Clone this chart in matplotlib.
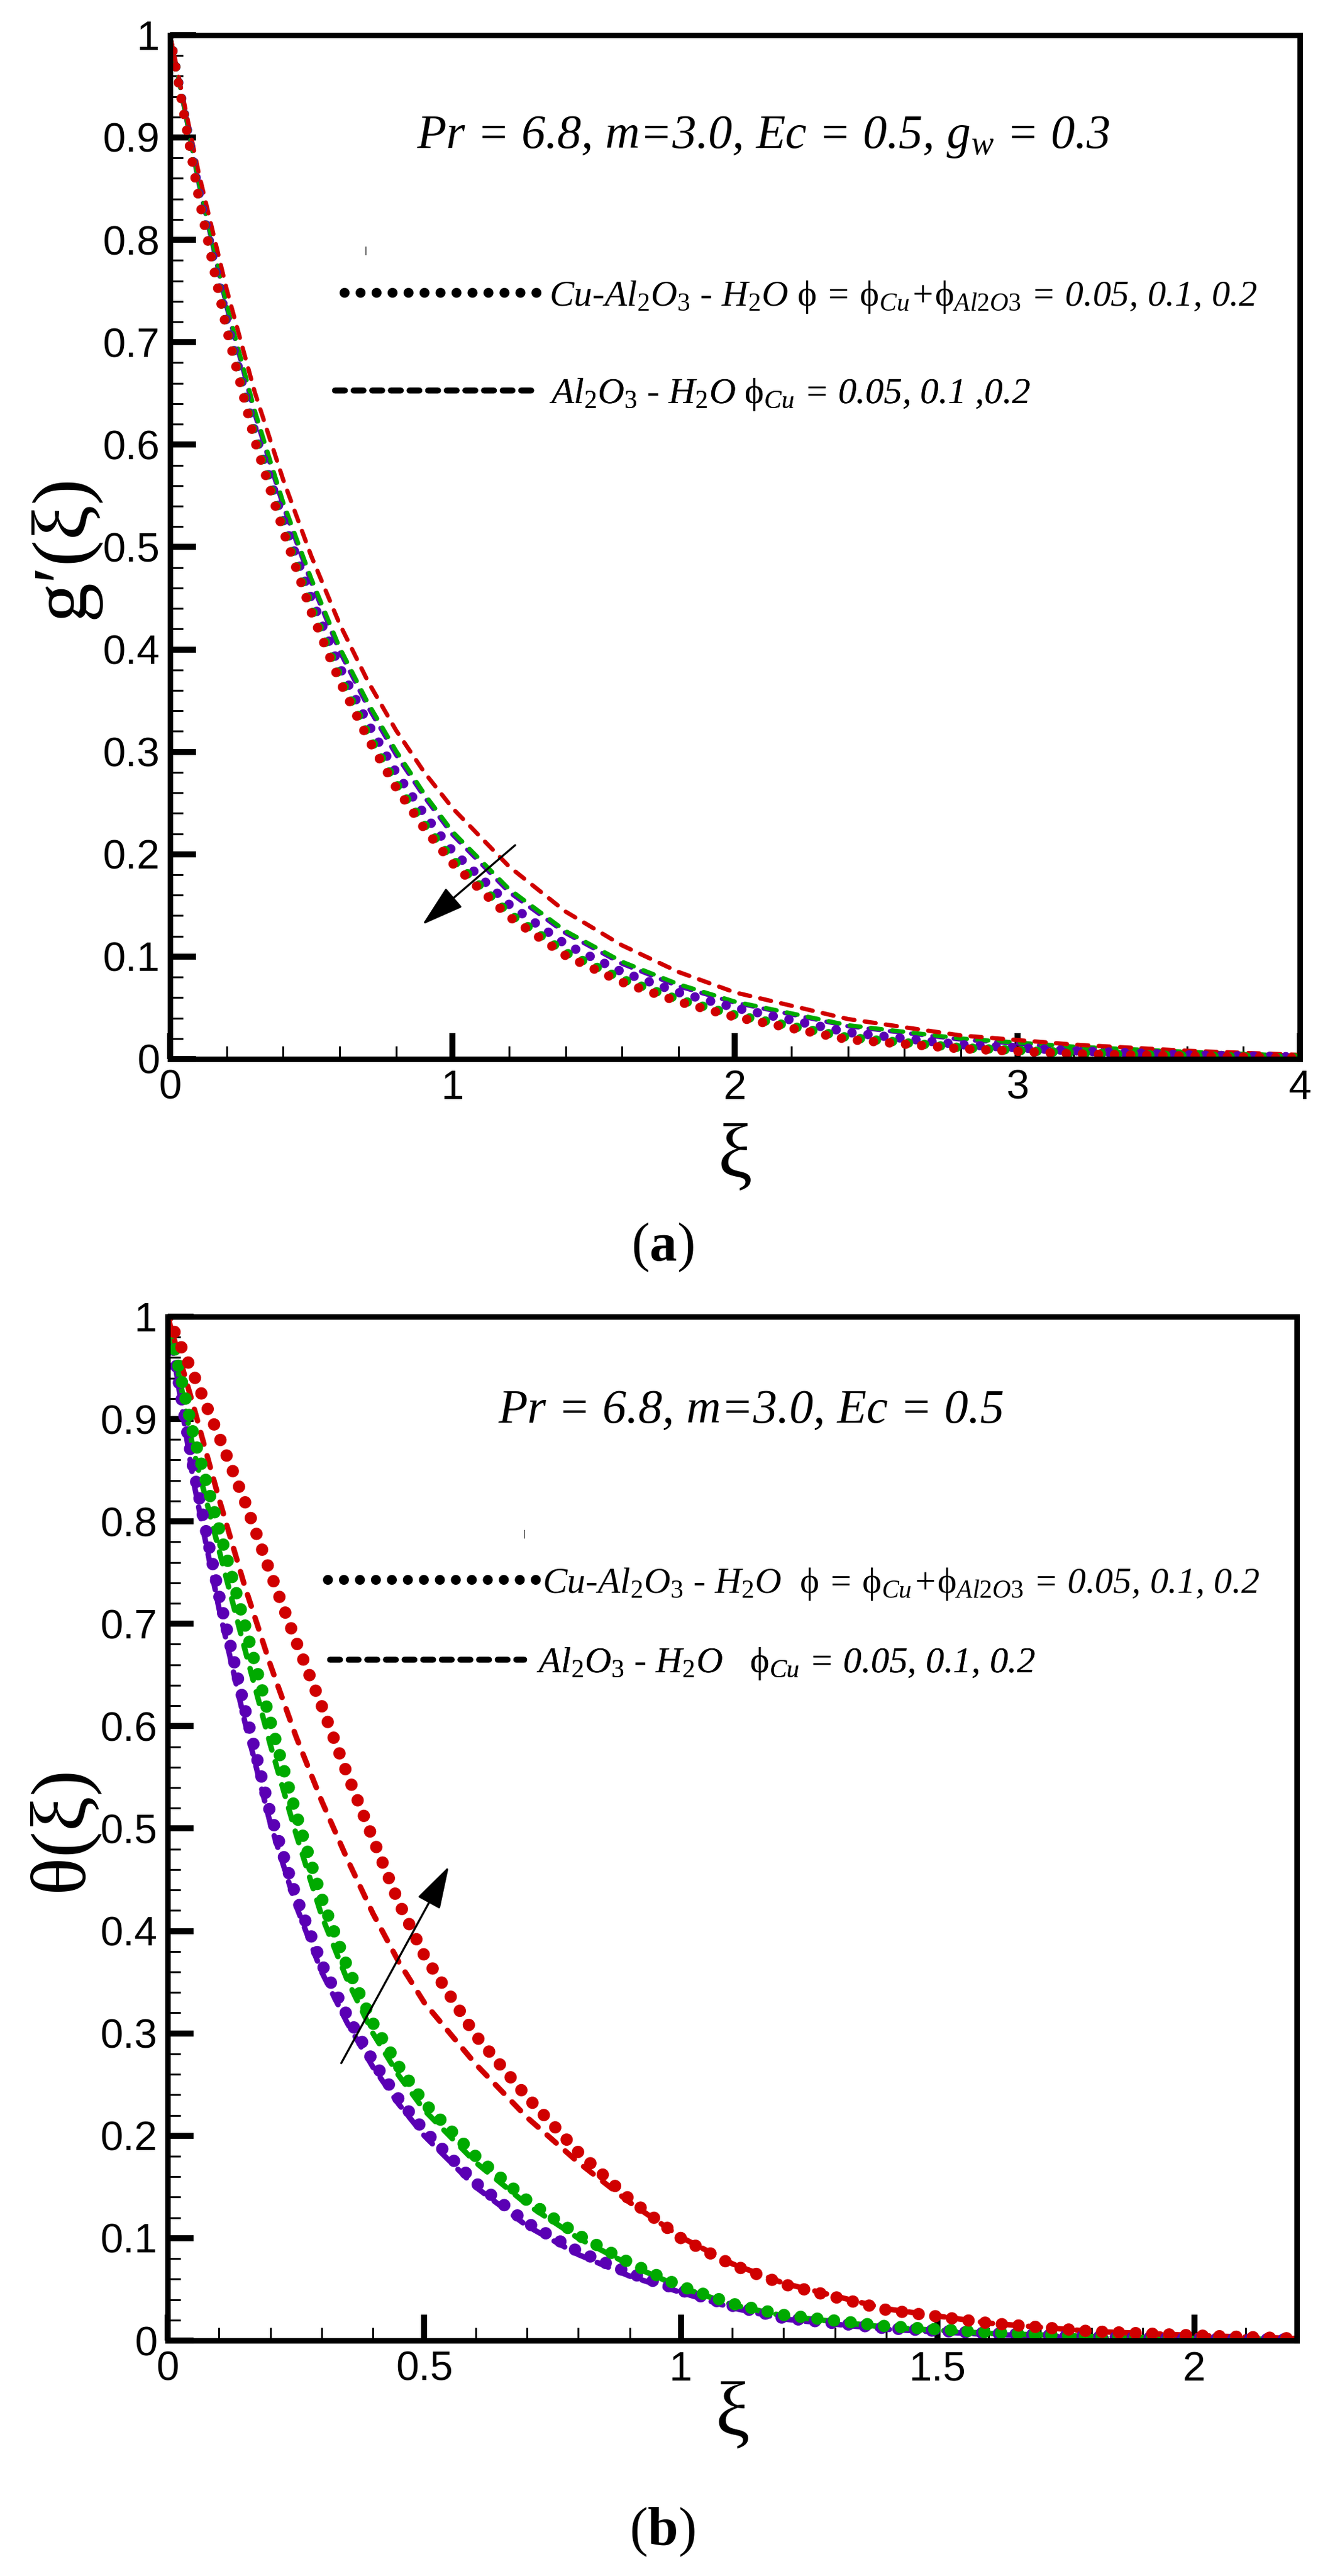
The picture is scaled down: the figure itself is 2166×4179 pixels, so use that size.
import matplotlib
matplotlib.use('Agg')
import matplotlib.pyplot as plt
from matplotlib.lines import Line2D
from matplotlib.ticker import MultipleLocator, FuncFormatter

plt.rcParams['mathtext.fontset'] = 'custom'
plt.rcParams['mathtext.rm'] = 'Liberation Serif'
plt.rcParams['mathtext.it'] = 'Liberation Serif:italic'
plt.rcParams['mathtext.bf'] = 'Liberation Serif:bold'
plt.rcParams['font.family'] = ['Liberation Sans', 'DejaVu Sans']

# ---- panel (a): velocity g'(xi) ----
xi_a = [0, 0.1, 0.2, 0.3, 0.4, 0.5, 0.6, 0.7, 0.8, 0.9, 1.0,
        1.2, 1.4, 1.6, 1.8, 2.0, 2.4, 2.8, 3.2, 3.6, 4.0]
ga_dash_purple = [1.0, 0.856, 0.734, 0.629, 0.540, 0.465, 0.398, 0.344, 0.297, 0.256, 0.219,
                  0.163, 0.123, 0.093, 0.071, 0.055, 0.032, 0.019, 0.011, 0.006, 0.003]
ga_dash_green = [1.0, 0.858, 0.737, 0.633, 0.544, 0.469, 0.402, 0.348, 0.301, 0.259, 0.222,
                 0.166, 0.125, 0.095, 0.073, 0.056, 0.033, 0.020, 0.012, 0.007, 0.003]
ga_dash_red = [1.0, 0.867, 0.752, 0.651, 0.566, 0.491, 0.425, 0.369, 0.321, 0.280, 0.245,
               0.188, 0.144, 0.111, 0.085, 0.065, 0.039, 0.023, 0.014, 0.008, 0.004]
ga_dot_purple = [1.0, 0.849, 0.721, 0.612, 0.527, 0.450, 0.383, 0.328, 0.280, 0.239, 0.203,
                 0.151, 0.112, 0.085, 0.065, 0.050, 0.026, 0.014, 0.008, 0.004, 0.002]
ga_dot_green = [1.0, 0.844, 0.714, 0.607, 0.519, 0.440, 0.373, 0.317, 0.269, 0.229, 0.195,
                0.142, 0.104, 0.078, 0.058, 0.043, 0.021, 0.011, 0.006, 0.003, 0.001]
ga_dot_red = [1.0, 0.842, 0.712, 0.603, 0.516, 0.436, 0.369, 0.313, 0.265, 0.225, 0.191,
              0.139, 0.101, 0.075, 0.056, 0.041, 0.019, 0.010, 0.005, 0.003, 0.001]

# ---- panel (b): temperature theta(xi) ----
xi_b = [0, 0.05, 0.1, 0.15, 0.2, 0.25, 0.3, 0.35, 0.4, 0.45, 0.5,
        0.6, 0.7, 0.8, 0.9, 1.0, 1.1, 1.2, 1.4, 1.6, 1.8, 2.0, 2.2]
tb_dash_purple = [1.0, 0.840, 0.715, 0.605, 0.505, 0.425, 0.360, 0.310, 0.267, 0.231, 0.200,
                  0.150, 0.112, 0.084, 0.063, 0.047, 0.032, 0.021, 0.011, 0.006, 0.003, 0.002, 0.001]
tb_dash_green = [1.0, 0.870, 0.772, 0.676, 0.582, 0.495, 0.415, 0.352, 0.300, 0.259, 0.225,
                 0.174, 0.133, 0.100, 0.074, 0.052, 0.035, 0.024, 0.013, 0.007, 0.004, 0.002, 0.001]
tb_dash_red = [1.0, 0.913, 0.822, 0.737, 0.660, 0.590, 0.527, 0.470, 0.417, 0.370, 0.330,
               0.270, 0.218, 0.174, 0.135, 0.101, 0.075, 0.056, 0.031, 0.017, 0.009, 0.005, 0.002]
tb_dot_purple = [1.0, 0.852, 0.728, 0.618, 0.515, 0.434, 0.368, 0.317, 0.273, 0.236, 0.205,
                 0.154, 0.115, 0.087, 0.066, 0.049, 0.034, 0.022, 0.012, 0.007, 0.004, 0.002, 0.001]
tb_dot_green = [1.0, 0.885, 0.793, 0.700, 0.605, 0.515, 0.432, 0.365, 0.310, 0.268, 0.232,
                0.180, 0.137, 0.103, 0.076, 0.053, 0.036, 0.025, 0.014, 0.008, 0.004, 0.002, 0.001]
tb_dot_red = [1.0, 0.944, 0.883, 0.820, 0.750, 0.683, 0.620, 0.553, 0.490, 0.428, 0.376,
              0.298, 0.238, 0.184, 0.138, 0.100, 0.074, 0.055, 0.030, 0.017, 0.009, 0.005, 0.002]

PURPLE, GREEN, RED = '#5a00b4', '#00aa00', '#d00000'

leg_a = [r'Cu-Al$_{\mathit{2}}$O$_{\mathit{3}}$ - H$_{\mathit{2}}$O $\mathrm{\phi}$ = '
         r'$\mathrm{\phi}_{Cu}$+$\mathrm{\phi}_{\mathit{Al2O3}}$ = 0.05, 0.1, 0.2',
         r'Al$_{\mathit{2}}$O$_{\mathit{3}}$ - H$_{\mathit{2}}$O $\mathrm{\phi}_{Cu}$ = 0.05, 0.1 ,0.2']
leg_b = [r'Cu-Al$_{\mathit{2}}$O$_{\mathit{3}}$ - H$_{\mathit{2}}$O  $\mathrm{\phi}$ = '
         r'$\mathrm{\phi}_{Cu}$+$\mathrm{\phi}_{\mathit{Al2O3}}$ = 0.05, 0.1, 0.2',
         r'Al$_{\mathit{2}}$O$_{\mathit{3}}$ - H$_{\mathit{2}}$O   $\mathrm{\phi}_{Cu}$ = 0.05, 0.1, 0.2']

fig = plt.figure(figsize=(10.83, 20.895), dpi=200)
ax_a = fig.add_axes([0.1274, 0.5889, 0.8463, 0.3975])
ax_b = fig.add_axes([0.1256, 0.0914, 0.8458, 0.3975])

serif = ['Liberation Serif', 'DejaVu Serif']


def style(ax, xmax, xmaj, xmin):
    ax.set_xlim(0, xmax)
    ax.set_ylim(0, 1)
    ax.xaxis.set_major_locator(MultipleLocator(xmaj))
    ax.xaxis.set_minor_locator(MultipleLocator(xmin))
    ax.yaxis.set_major_locator(MultipleLocator(0.1))
    ax.yaxis.set_minor_locator(MultipleLocator(0.02))
    fmt = FuncFormatter(lambda v, p: '%g' % round(v, 3))
    ax.xaxis.set_major_formatter(fmt)
    ax.yaxis.set_major_formatter(fmt)
    ax.tick_params(which='both', direction='in', top=False, right=False)
    ax.tick_params(which='major', length=15, width=3.5, labelsize=24, pad=6)
    ax.tick_params(which='minor', length=7.5, width=1.1)
    for s in ax.spines.values():
        s.set_linewidth(3.2)


def curves(ax, xi, dashed, dotted, dash_lw, dash_pat, dot_lw, dot_pat):
    for vals, c in zip(dashed, [PURPLE, GREEN, RED]):
        ax.plot(xi, vals, color=c, lw=dash_lw, linestyle=(0, dash_pat),
                dash_capstyle='round')
    for vals, c in zip(dotted, [PURPLE, GREEN, RED]):
        ax.plot(xi, vals, color=c, lw=dot_lw, linestyle=(0, dot_pat),
                dash_capstyle='round')


def key(ax, handle, label, x, y, hlen, pad):
    # one legend row, vertically centred on y (axes fraction)
    leg = ax.legend([handle], [label], loc='center left', bbox_to_anchor=(x, y),
                    frameon=False, borderpad=0, borderaxespad=0, handlelength=hlen,
                    handletextpad=pad,
                    prop={'family': 'Liberation Serif', 'style': 'italic', 'size': 21.4})
    ax.add_artist(leg)


def dot_handle():
    return Line2D([], [], color='k', lw=5.8, linestyle=(0, (0.01, 1.6)), dash_capstyle='round')


def dash_handle():
    return Line2D([], [], color='k', lw=3.4, linestyle=(0, (1.7, 1.5)), dash_capstyle='round')


arrow = dict(arrowstyle='-|>,head_length=0.6,head_width=0.18', color='k', lw=1.2,
             mutation_scale=36)

# panel (a)
style(ax_a, 4, 1, 0.2)
curves(ax_a, xi_a, [ga_dash_purple, ga_dash_green, ga_dash_red],
       [ga_dot_purple, ga_dot_green, ga_dot_red], 2.5, (2.6, 2.4), 5.5, (0.01, 1.7))
ax_a.set_ylabel('g\u2032(\u03be)', family=serif, fontsize=46)
ax_a.yaxis.set_label_coords(-0.062, 0.5)
ax_a.set_xlabel('\u03be', family=serif, fontsize=45)
ax_a.xaxis.set_label_coords(0.5, -0.063)
ax_a.text(2.1, 0.9, r'Pr = 6.8, m=3.0, Ec = 0.5, g$_{w}$ = 0.3', family=serif,
          style='italic', fontsize=28, ha='center', va='center')
key(ax_a, dot_handle(), leg_a[0], 0.1544, 0.744, 5.29, 0.3)
key(ax_a, dash_handle(), leg_a[1], 0.1457, 0.649, 5.56, 0.3)
ax_a.text(0.1735, 0.789, '|', transform=ax_a.transAxes, fontsize=5, ha='center', va='center')
ax_a.annotate('', xy=(0.884, 0.129), xytext=(1.231, 0.211), arrowprops=arrow)

# panel (b)
style(ax_b, 2.2, 0.5, 0.1)
curves(ax_b, xi_b, [tb_dash_purple, tb_dash_green, tb_dash_red],
       [tb_dot_purple, tb_dot_green, tb_dot_red], 3.2, (2.2, 2.2), 7.2, (0.01, 1.35))
ax_b.set_ylabel('\u03b8(\u03be)', family=serif, fontsize=46)
ax_b.yaxis.set_label_coords(-0.061, 0.5)
ax_b.set_xlabel('\u03be', family=serif, fontsize=45)
ax_b.xaxis.set_label_coords(0.5, -0.040)
ax_b.text(1.137, 0.908, 'Pr = 6.8, m=3.0, Ec = 0.5', family=serif,
          style='italic', fontsize=28, ha='center', va='center')
key(ax_b, dot_handle(), leg_b[0], 0.1419, 0.7387, 5.69, 0.17)
key(ax_b, dash_handle(), leg_b[1], 0.1436, 0.661, 5.3, 0.34)
ax_b.text(0.316, 0.7875, '|', transform=ax_b.transAxes, fontsize=5, ha='center', va='center')
ax_b.annotate('', xy=(0.551, 0.466), xytext=(0.335, 0.268), arrowprops=arrow)

fig.text(0.496, 0.5157, r'($\mathbf{a}$)', family=serif, fontsize=32, ha='center', va='center')
fig.text(0.496, 0.0170, r'($\mathbf{b}$)', family=serif, fontsize=32, ha='center', va='center')

fig.savefig('out.png', dpi=200)
